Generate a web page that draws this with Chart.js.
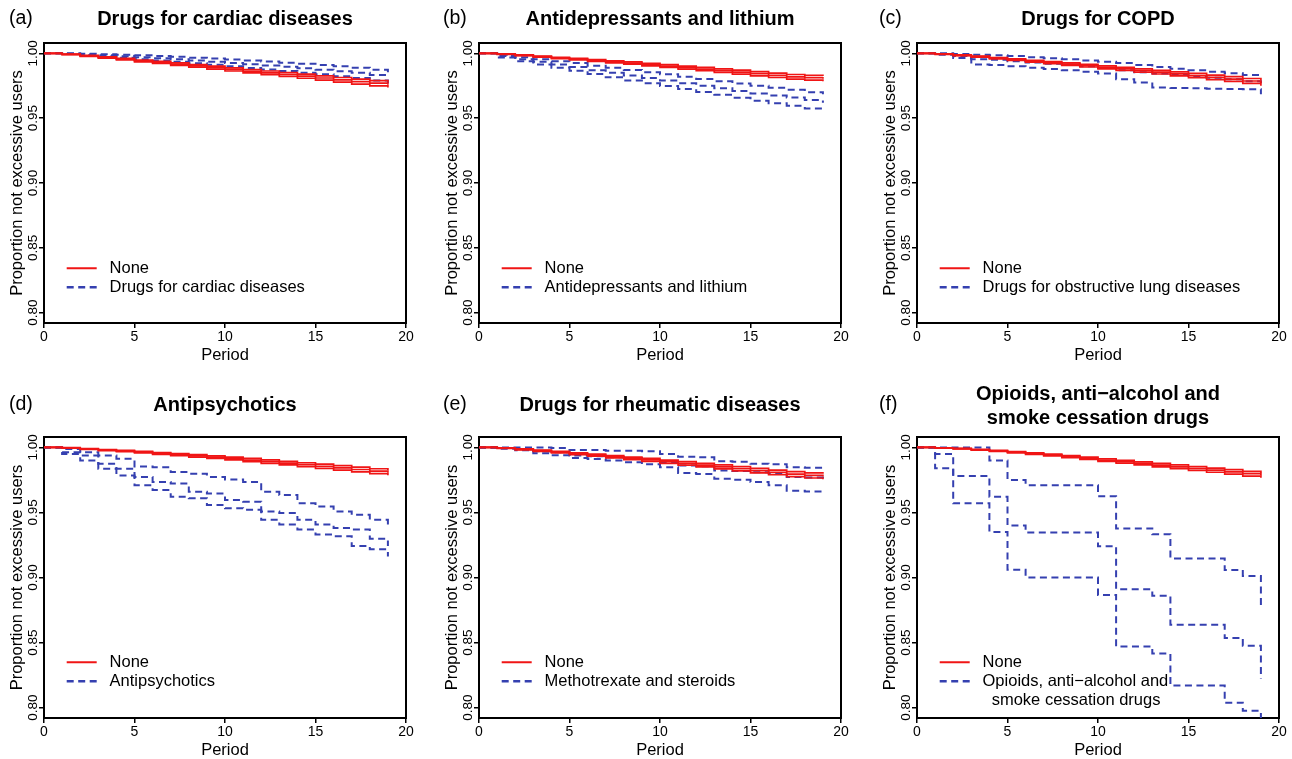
<!DOCTYPE html>
<html>
<head>
<meta charset="utf-8">
<script src="https://cdn.jsdelivr.net/npm/chart.js@4.4.1/dist/chart.umd.min.js"></script>
<style>
html, body { margin: 0; padding: 0; background: #fff; width: 1292px; height: 759px; overflow: hidden; }
canvas { position: absolute; }
.tag { position: absolute; font: 19.5px "Liberation Sans", Arial, sans-serif; color: #000; line-height: normal; }
</style>
</head>
<body>
<canvas id="pa" width="430" height="380" style="left:0px;top:0px"></canvas>
<canvas id="pb" width="430" height="380" style="left:435px;top:0px"></canvas>
<canvas id="pc" width="430" height="380" style="left:873px;top:0px"></canvas>
<canvas id="pd" width="430" height="380" style="left:0px;top:379px"></canvas>
<canvas id="pe" width="430" height="380" style="left:435px;top:379px"></canvas>
<canvas id="pf" width="430" height="380" style="left:873px;top:379px"></canvas>
<div class="tag" style="left:9px;top:6px">(a)</div>
<div class="tag" style="left:443px;top:6px">(b)</div>
<div class="tag" style="left:879px;top:6px">(c)</div>
<div class="tag" style="left:9px;top:392px">(d)</div>
<div class="tag" style="left:443px;top:392px">(e)</div>
<div class="tag" style="left:879px;top:392px">(f)</div>
<script>
// periods on the x axis and the tick labels
const periods = [0, 1, 2, 3, 4, 5, 6, 7, 8, 9, 10, 11, 12, 13, 14, 15, 16, 17, 18, 19];
const xTicks = [0, 5, 10, 15, 20];
const yTicks = [0.80, 0.85, 0.90, 0.95, 1.00];

// (a) drugs for cardiac diseases
const cardiacNone   = [1.000, 0.9993, 0.998, 0.9968, 0.9955, 0.9942, 0.993, 0.9917, 0.9904, 0.989, 0.9876, 0.9862, 0.985, 0.9837, 0.9824, 0.981, 0.9796, 0.9782, 0.977, 0.9757];
const cardiacNoneHi = [1.000, 0.9995, 0.9984, 0.9973, 0.9961, 0.9949, 0.9938, 0.9926, 0.9914, 0.9901, 0.9888, 0.9875, 0.9864, 0.9852, 0.984, 0.9827, 0.9814, 0.9801, 0.979, 0.9778];
const cardiacNoneLo = [1.000, 0.9991, 0.9976, 0.9963, 0.9949, 0.9935, 0.9922, 0.9908, 0.9894, 0.9879, 0.9864, 0.9849, 0.9836, 0.9822, 0.9808, 0.9793, 0.9778, 0.9763, 0.975, 0.9736];
const cardiacDrug   = [1.000, 0.9998, 0.9992, 0.9985, 0.9978, 0.997, 0.9962, 0.9954, 0.9945, 0.9936, 0.9926, 0.9916, 0.9906, 0.9896, 0.9885, 0.9874, 0.9862, 0.985, 0.9834, 0.9817];
const cardiacDrugHi = [1.000, 1.000, 0.9998, 0.9994, 0.999, 0.9985, 0.9979, 0.9973, 0.9967, 0.996, 0.9953, 0.9945, 0.9937, 0.9928, 0.992, 0.991, 0.99, 0.989, 0.9873, 0.9855];
const cardiacDrugLo = [1.000, 0.9996, 0.9986, 0.9976, 0.9966, 0.9955, 0.9945, 0.9935, 0.9923, 0.9912, 0.99, 0.9887, 0.9875, 0.9864, 0.985, 0.9838, 0.9824, 0.981, 0.979, 0.977];

// (b) antidepressants and lithium
const lithiumNone   = [1.000, 0.9995, 0.9985, 0.9975, 0.9965, 0.9955, 0.9945, 0.9935, 0.9925, 0.9913, 0.9902, 0.989, 0.9879, 0.9867, 0.9855, 0.9843, 0.9831, 0.9819, 0.9812, 0.9805];
const lithiumNoneHi = [1.000, 0.9997, 0.9988, 0.9979, 0.997, 0.9961, 0.9952, 0.9943, 0.9934, 0.9923, 0.9913, 0.9902, 0.9892, 0.9881, 0.987, 0.9859, 0.9848, 0.9837, 0.9831, 0.9826];
const lithiumNoneLo = [1.000, 0.9993, 0.9982, 0.9971, 0.996, 0.9949, 0.9938, 0.9927, 0.9916, 0.9903, 0.9891, 0.9878, 0.9866, 0.9853, 0.984, 0.9827, 0.9814, 0.9801, 0.9793, 0.9784];
const lithiumDrug   = [1.000, 0.998, 0.9955, 0.9935, 0.9915, 0.9895, 0.987, 0.985, 0.983, 0.981, 0.979, 0.977, 0.975, 0.973, 0.971, 0.969, 0.9675, 0.966, 0.964, 0.962];
const lithiumDrugHi = [1.000, 0.999, 0.997, 0.9955, 0.994, 0.9925, 0.9905, 0.989, 0.9872, 0.9855, 0.9838, 0.982, 0.9802, 0.9785, 0.9768, 0.975, 0.9735, 0.972, 0.970, 0.9685];
const lithiumDrugLo = [1.000, 0.9968, 0.994, 0.9915, 0.989, 0.9865, 0.984, 0.9815, 0.979, 0.977, 0.9748, 0.9725, 0.9702, 0.968, 0.9658, 0.9635, 0.9615, 0.9595, 0.9575, 0.9556];

// (c) drugs for COPD
const copdNone   = [1.000, 0.9995, 0.9985, 0.9975, 0.9963, 0.9951, 0.994, 0.9929, 0.9917, 0.9905, 0.9892, 0.988, 0.9868, 0.9855, 0.9842, 0.9829, 0.9815, 0.9802, 0.9787, 0.9772];
const copdNoneHi = [1.000, 0.9997, 0.9988, 0.9979, 0.9968, 0.9957, 0.9947, 0.9937, 0.9926, 0.9915, 0.9903, 0.9892, 0.9881, 0.9869, 0.9857, 0.9845, 0.9832, 0.982, 0.9806, 0.9793];
const copdNoneLo = [1.000, 0.9993, 0.9982, 0.9971, 0.9958, 0.9945, 0.9933, 0.9921, 0.9908, 0.9895, 0.9881, 0.9868, 0.9855, 0.9841, 0.9827, 0.9813, 0.9798, 0.9784, 0.9768, 0.9751];
const copdDrug   = [1.000, 0.9995, 0.998, 0.9955, 0.995, 0.994, 0.993, 0.992, 0.9912, 0.990, 0.9888, 0.987, 0.9855, 0.9845, 0.9835, 0.9825, 0.9812, 0.980, 0.9785, 0.9769];
const copdDrugHi = [1.000, 1.000, 0.9995, 0.999, 0.9985, 0.998, 0.997, 0.9962, 0.9955, 0.9945, 0.9935, 0.9925, 0.991, 0.9895, 0.9882, 0.987, 0.9858, 0.9846, 0.9834, 0.982];
const copdDrugLo = [1.000, 0.999, 0.9965, 0.9915, 0.991, 0.990, 0.989, 0.988, 0.987, 0.9858, 0.9845, 0.980, 0.9775, 0.9737, 0.9733, 0.973, 0.9728, 0.9726, 0.9724, 0.9685];

// (d) antipsychotics
const psychNone   = [1.000, 0.9996, 0.9988, 0.998, 0.9972, 0.9963, 0.9954, 0.9945, 0.9935, 0.9925, 0.9915, 0.9903, 0.9891, 0.9879, 0.9867, 0.9855, 0.9843, 0.983, 0.9817, 0.9805];
const psychNoneHi = [1.000, 0.9998, 0.9991, 0.9984, 0.9977, 0.9969, 0.9961, 0.9953, 0.9944, 0.9935, 0.9926, 0.9915, 0.9904, 0.9893, 0.9882, 0.9871, 0.986, 0.9848, 0.9836, 0.9824];
const psychNoneLo = [1.000, 0.9994, 0.9985, 0.9976, 0.9967, 0.9957, 0.9947, 0.9937, 0.9926, 0.9915, 0.9904, 0.9891, 0.9878, 0.9865, 0.9852, 0.9839, 0.9826, 0.9812, 0.9798, 0.9786];
const psychDrug   = [1.000, 0.9962, 0.9937, 0.9874, 0.9836, 0.9773, 0.9735, 0.9722, 0.9659, 0.9646, 0.9596, 0.9583, 0.9508, 0.9495, 0.9444, 0.9407, 0.9381, 0.9369, 0.9298, 0.9242];
const psychDrugHi = [1.000, 0.9987, 0.9962, 0.9937, 0.9912, 0.9854, 0.9848, 0.9811, 0.9798, 0.9773, 0.9753, 0.9735, 0.9659, 0.9634, 0.9571, 0.9545, 0.9508, 0.9482, 0.9444, 0.9381];
const psychDrugLo = [1.000, 0.9949, 0.9899, 0.9836, 0.9785, 0.971, 0.9672, 0.9621, 0.9609, 0.9558, 0.9533, 0.952, 0.9444, 0.9407, 0.9369, 0.9331, 0.9318, 0.9242, 0.9217, 0.9162];

// (e) drugs for rheumatic diseases
const rheumNone   = [1.000, 0.9995, 0.9985, 0.9975, 0.9963, 0.9951, 0.994, 0.9928, 0.9916, 0.9904, 0.989, 0.9877, 0.9864, 0.985, 0.9836, 0.9822, 0.9808, 0.9795, 0.9785, 0.9776];
const rheumNoneHi = [1.000, 0.9997, 0.9989, 0.998, 0.9969, 0.9958, 0.9948, 0.9937, 0.9926, 0.9915, 0.9902, 0.989, 0.9878, 0.9865, 0.9852, 0.9839, 0.9826, 0.9814, 0.9805, 0.9797];
const rheumNoneLo = [1.000, 0.9993, 0.9981, 0.997, 0.9957, 0.9944, 0.9932, 0.9919, 0.9906, 0.9893, 0.9878, 0.9864, 0.985, 0.9835, 0.982, 0.9805, 0.979, 0.9776, 0.9765, 0.9755];
const rheumDrug   = [1.000, 0.9995, 0.9987, 0.997, 0.9962, 0.9937, 0.9932, 0.9924, 0.9918, 0.991, 0.9886, 0.9861, 0.9855, 0.9823, 0.9818, 0.981, 0.9802, 0.9773, 0.9768, 0.9753];
const rheumDrugHi = [1.000, 1.000, 1.000, 1.000, 0.9995, 0.998, 0.998, 0.9975, 0.9975, 0.997, 0.995, 0.9929, 0.9925, 0.9894, 0.989, 0.9874, 0.987, 0.9848, 0.9843, 0.9828];
const rheumDrugLo = [1.000, 0.999, 0.9978, 0.9955, 0.994, 0.9919, 0.991, 0.9899, 0.9885, 0.987, 0.9848, 0.9803, 0.9795, 0.976, 0.9752, 0.9735, 0.971, 0.9667, 0.9662, 0.9641];

// (f) opioids, anti-alcohol and smoke cessation drugs
const opioidNone   = [1.000, 0.9996, 0.999, 0.9982, 0.9973, 0.9963, 0.9953, 0.9942, 0.9929, 0.9916, 0.9903, 0.989, 0.9877, 0.9864, 0.9851, 0.9838, 0.9825, 0.9812, 0.9798, 0.9785];
const opioidNoneHi = [1.000, 0.9997, 0.9992, 0.9985, 0.9977, 0.9968, 0.9959, 0.9949, 0.9937, 0.9925, 0.9913, 0.9901, 0.9889, 0.9877, 0.9865, 0.9853, 0.9841, 0.9829, 0.9816, 0.9804];
const opioidNoneLo = [1.000, 0.9995, 0.9988, 0.9979, 0.9969, 0.9958, 0.9947, 0.9935, 0.9921, 0.9907, 0.9893, 0.9879, 0.9865, 0.9851, 0.9837, 0.9823, 0.9809, 0.9795, 0.978, 0.9766];
const opioidDrug   = [1.000, 0.995, 0.978, 0.978, 0.962, 0.940, 0.9345, 0.9345, 0.9345, 0.9345, 0.924, 0.891, 0.891, 0.886, 0.8637, 0.8637, 0.8637, 0.8535, 0.8476, 0.822];
const opioidDrugHi = [1.000, 1.000, 1.000, 1.000, 0.990, 0.975, 0.971, 0.971, 0.971, 0.971, 0.9625, 0.9376, 0.9376, 0.9332, 0.9147, 0.9147, 0.9147, 0.9057, 0.9012, 0.876];
const opioidDrugLo = [1.000, 0.984, 0.957, 0.957, 0.935, 0.906, 0.900, 0.900, 0.900, 0.900, 0.8866, 0.847, 0.847, 0.8415, 0.817, 0.817, 0.817, 0.8038, 0.7975, 0.775];

var RED = '#f01515';
var BLUE = '#3540b0';

var panels = [
    { id: 'pa', row: 0, title: 'Drugs for cardiac diseases', drugLabel: ' Drugs for cardiac diseases',
      none: [cardiacNone, cardiacNoneHi, cardiacNoneLo], drug: [cardiacDrug, cardiacDrugHi, cardiacDrugLo] },
    { id: 'pb', row: 0, title: 'Antidepressants and lithium', drugLabel: ' Antidepressants and lithium',
      none: [lithiumNone, lithiumNoneHi, lithiumNoneLo], drug: [lithiumDrug, lithiumDrugHi, lithiumDrugLo] },
    { id: 'pc', row: 0, title: 'Drugs for COPD', drugLabel: ' Drugs for obstructive lung diseases',
      none: [copdNone, copdNoneHi, copdNoneLo], drug: [copdDrug, copdDrugHi, copdDrugLo] },
    { id: 'pd', row: 1, title: 'Antipsychotics', drugLabel: ' Antipsychotics',
      none: [psychNone, psychNoneHi, psychNoneLo], drug: [psychDrug, psychDrugHi, psychDrugLo] },
    { id: 'pe', row: 1, title: 'Drugs for rheumatic diseases', drugLabel: ' Methotrexate and steroids',
      none: [rheumNone, rheumNoneHi, rheumNoneLo], drug: [rheumDrug, rheumDrugHi, rheumDrugLo] },
    { id: 'pf', row: 1, title: ['Opioids, anti\u2212alcohol and', 'smoke cessation drugs'],
      drugLabel: [' Opioids, anti\u2212alcohol and', '   smoke cessation drugs'],
      none: [opioidNone, opioidNoneHi, opioidNoneLo], drug: [opioidDrug, opioidDrugHi, opioidDrugLo] }
];

Chart.defaults.font.family = '"Liberation Sans", Arial, Helvetica, sans-serif';
Chart.defaults.color = '#000';

// puts the legend inside the plot box, like R's legend(x, y)
var legendSpot = {
    id: 'legendSpot',
    afterLayout(chart) {
        var area = chart.chartArea;
        var lg = chart.legend;
        lg.left = area.left + 20.2;
        lg.top = area.top + 214.5;
        lg.right = area.right;
        lg.bottom = area.bottom;
    }
};

function lineSet(label, values, color, width, dash) {
    return {
        label: label,
        data: periods.map((p, i) => ({ x: p, y: values[i] })),
        borderColor: color,
        backgroundColor: color,
        borderWidth: width,
        borderDash: dash,
        stepped: 'before',
        pointRadius: 0,
        fill: false
    };
}

function titlePadding(p) {
    if (Array.isArray(p.title)) return { top: 2.7, bottom: 6.1 };
    return p.row == 0 ? { top: 6.7, bottom: 11.7 } : { top: 14.2, bottom: 19.2 };
}

function draw_panel(p) {
    var canvas = document.getElementById(p.id);

    let datasets = [
        lineSet('None', p.none[0], RED, 1.7, []),
        lineSet('None upper', p.none[1], RED, 1.7, []),
        lineSet('None lower', p.none[2], RED, 1.7, []),
        lineSet('Drug', p.drug[0], BLUE, 2, [7, 4.5]),
        lineSet('Drug upper', p.drug[1], BLUE, 2, [7, 4.5]),
        lineSet('Drug lower', p.drug[2], BLUE, 2, [7, 4.5])
    ];

    var options = {
        responsive: false,
        animation: false,
        events: [],
        layout: { padding: { left: 0, right: 24, top: 0, bottom: p.row == 0 ? 16 : 0 } },
        plugins: {
            title: {
                display: true,
                text: p.title,
                fullSize: false,
                color: '#000',
                font: { size: 20, weight: 'bold', lineHeight: 1.23 },
                padding: titlePadding(p)
            },
            legend: {
                position: 'chartArea',
                align: 'start',
                labels: {
                    usePointStyle: true,
                    pointStyleWidth: 30,
                    padding: 2.5,
                    font: { size: 16.5, lineHeight: 1.15 },
                    generateLabels: () => [
                        { text: ' None', fillStyle: RED, strokeStyle: RED, lineWidth: 2, lineDash: [], pointStyle: 'line', fontColor: '#000', hidden: false },
                        { text: p.drugLabel, fillStyle: BLUE, strokeStyle: BLUE, lineWidth: 2.4, lineDash: [7, 4.5], pointStyle: 'line', fontColor: '#000', hidden: false }
                    ]
                }
            },
            tooltip: { enabled: false }
        },
        scales: {
            x: {
                type: 'linear',
                min: 0,
                max: 20,
                afterBuildTicks: scale => { scale.ticks = xTicks.map(v => ({ value: v })); },
                ticks: { font: { size: 14 }, padding: 1, maxRotation: 0 },
                grid: { drawOnChartArea: false, tickLength: 5, color: '#000', lineWidth: 1.5 },
                border: { color: '#000', width: 2 },
                title: { display: true, text: 'Period', font: { size: 16.5, lineHeight: 1 }, padding: { top: 0, bottom: 0 } },
                afterFit: scale => { scale.height = 41; }
            },
            y: {
                type: 'linear',
                min: 0.792,
                max: 1.008,
                afterBuildTicks: scale => { scale.ticks = yTicks.map(v => ({ value: v })); },
                ticks: {
                    font: { size: 13.5 },
                    minRotation: 90,
                    maxRotation: 90,
                    crossAlign: 'center',
                    padding: -7,
                    callback: value => value.toFixed(2)
                },
                grid: { drawOnChartArea: false, tickLength: 5, color: '#000', lineWidth: 1.5 },
                border: { color: '#000', width: 2 },
                title: { display: true, text: 'Proportion not excessive users', font: { size: 16.5 }, padding: { top: 8, bottom: 0 } },
                afterFit: scale => { scale.width = 44; }
            },
            // top and right axes only close the box
            x2: {
                type: 'linear', position: 'top', min: 0, max: 20,
                ticks: { display: false },
                grid: { drawOnChartArea: false, drawTicks: false },
                border: { color: '#000', width: 2 },
                afterFit: scale => { scale.height = 0; }
            },
            y2: {
                type: 'linear', position: 'right', min: 0.792, max: 1.008,
                ticks: { display: false },
                grid: { drawOnChartArea: false, drawTicks: false },
                border: { color: '#000', width: 2 },
                afterFit: scale => { scale.width = 0; }
            }
        }
    };

    return new Chart(canvas, {
        type: 'line',
        data: { datasets: datasets },
        options: options,
        plugins: [legendSpot]
    });
}

panels.forEach(p => draw_panel(p));
</script>
</body>
</html>
